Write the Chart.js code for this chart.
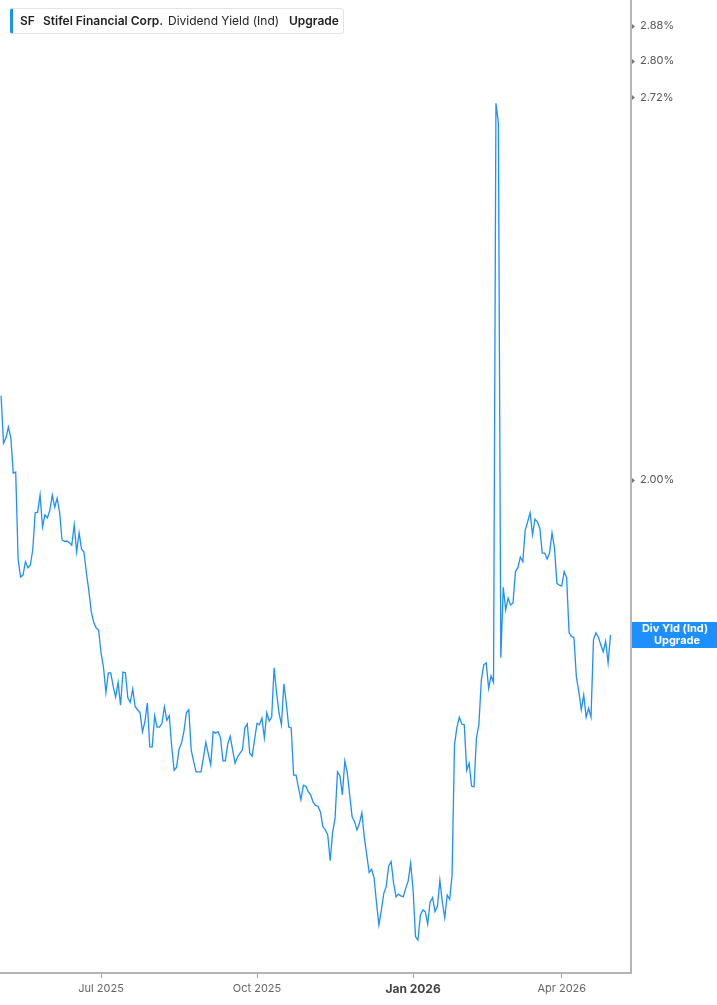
<!DOCTYPE html>
<html>
<head>
<meta charset="utf-8">
<script src="https://cdn.jsdelivr.net/npm/chart.js@4.4.1/dist/chart.umd.min.js"></script>
<style>
  html, body { margin: 0; padding: 0; background: #fff; }
  #wrap { position: relative; width: 717px; height: 1005px; }
  #legend {
    position: absolute; left: 10px; top: 8px; width: 334px; height: 26px;
    box-sizing: border-box; background: #fff;
    border: 1px solid #e4e4e4; border-left: 3px solid #1e8fff; border-radius: 3px;
    font-family: Inter, "Noto Sans", sans-serif; font-size: 12px; color: #222;
  }
  #legend span { position: absolute; top: 0; line-height: 24px; white-space: nowrap; }
  #legend .b { font-weight: 600; }
</style>
</head>
<body>
<div id="wrap">
  <canvas id="myChart" width="717" height="1005"></canvas>
  <div id="legend">
    <span class="b" style="left:7px">SF</span>
    <span class="b" style="left:30px">Stifel Financial Corp.</span>
    <span style="left:155px">Dividend Yield (Ind)</span>
    <span class="b" style="left:276px">Upgrade</span>
  </div>
</div>
<script>
// dividend yield (%) per trading session
let yields = [
  2.140, 2.060, 2.069, 2.087, 2.069, 2.011, 2.013, 1.876, 1.850, 1.853,
  1.873, 1.864, 1.868, 1.891, 1.948, 1.949, 1.976, 1.926, 1.945, 1.940,
  1.952, 1.976, 1.957, 1.971, 1.949, 1.906, 1.904, 1.904, 1.902, 1.898,
  1.929, 1.888, 1.917, 1.892, 1.888, 1.856, 1.830, 1.799, 1.784, 1.776,
  1.773, 1.741, 1.721, 1.686, 1.713, 1.713, 1.694, 1.680, 1.700, 1.669,
  1.714, 1.713, 1.679, 1.673, 1.691, 1.667, 1.663, 1.659, 1.634, 1.647,
  1.672, 1.614, 1.614, 1.655, 1.640, 1.640, 1.645, 1.667, 1.649, 1.655,
  1.614, 1.584, 1.588, 1.611, 1.619, 1.634, 1.659, 1.663, 1.610, 1.595,
  1.582, 1.582, 1.582, 1.600, 1.620, 1.605, 1.591, 1.634, 1.632, 1.634,
  1.626, 1.596, 1.596, 1.618, 1.628, 1.610, 1.593, 1.601, 1.606, 1.610,
  1.639, 1.644, 1.606, 1.602, 1.624, 1.645, 1.643, 1.652, 1.626, 1.659,
  1.648, 1.653, 1.720, 1.686, 1.659, 1.643, 1.698, 1.672, 1.640, 1.639,
  1.578, 1.578, 1.562, 1.547, 1.565, 1.564, 1.557, 1.553, 1.544, 1.540,
  1.539, 1.532, 1.514, 1.510, 1.504, 1.473, 1.507, 1.524, 1.582, 1.577,
  1.553, 1.596, 1.581, 1.553, 1.526, 1.520, 1.510, 1.518, 1.531, 1.501,
  1.480, 1.459, 1.463, 1.453, 1.424, 1.399, 1.416, 1.435, 1.443, 1.467,
  1.472, 1.447, 1.431, 1.434, 1.432, 1.431, 1.441, 1.449, 1.470, 1.439,
  1.386, 1.382, 1.410, 1.416, 1.414, 1.400, 1.425, 1.430, 1.414, 1.420,
  1.450, 1.425, 1.407, 1.433, 1.428, 1.456, 1.617, 1.640, 1.653, 1.644,
  1.643, 1.584, 1.593, 1.564, 1.563, 1.626, 1.643, 1.703, 1.724, 1.727,
  1.692, 1.709, 1.700, 2.707, 2.664, 1.734, 1.835, 1.802, 1.819, 1.809,
  1.812, 1.858, 1.864, 1.880, 1.873, 1.921, 1.934, 1.948, 1.914, 1.938,
  1.934, 1.924, 1.886, 1.886, 1.877, 1.886, 1.917, 1.894, 1.841, 1.838,
  1.837, 1.858, 1.849, 1.769, 1.764, 1.762, 1.707, 1.687, 1.663, 1.683,
  1.653, 1.665, 1.653, 1.759, 1.769, 1.763, 1.752, 1.742, 1.757, 1.727,
  1.766
];
let xTickIdx = [41, 105, 169, 230];
let xTickLabels = ["Jul 2025", "Oct 2025", "Jan 2026", "Apr 2026"];
let yTicks = [2.00, 2.72, 2.80, 2.88];
let boxLines = ["Div Yld (Ind)", "Upgrade"];

let lineColor = "#1e8fff";
let fontFam = "Inter, 'Noto Sans', sans-serif";

// little arrow marks on the right axis + last value tag
const sideMarks = {
  id: "sideMarks",
  afterDraw(chart) {
    let c = chart.ctx;
    let ys = chart.scales.y;
    c.save();
    c.fillStyle = "#777";
    yTicks.forEach(v => {
      let py = Math.round(ys.getPixelForValue(v)) + 0.5;
      c.beginPath();
      c.moveTo(ys.left + 1, py - 2.5);
      c.lineTo(ys.left + 4, py);
      c.lineTo(ys.left + 1, py + 2.5);
      c.closePath();
      c.fill();
    });
    let last = yields[yields.length - 1];
    let py = ys.getPixelForValue(last);
    c.fillStyle = lineColor;
    c.fillRect(ys.left + 1, Math.round(py - 13), chart.width - ys.left - 1, 26);
    c.fillStyle = "#fff";
    c.font = "bold 11px " + fontFam;
    c.textAlign = "center";
    c.textBaseline = "middle";
    let cx = (ys.left + chart.width) / 2 + 1;
    c.fillText(boxLines[0], cx, py - 6);
    c.fillText(boxLines[1], cx + 2, py + 6);
    c.restore();
  }
};

let ctx = document.querySelector("#myChart");
let myChart = new Chart(ctx, {
  type: "line",
  data: {
    datasets: [{
      label: "Dividend Yield (Ind)",
      data: yields.map((v, i) => ({ x: i, y: v })),
      borderColor: lineColor,
      borderWidth: 1.3,
      pointRadius: 0,
      pointHoverRadius: 0,
      tension: 0,
      fill: false
    }]
  },
  options: {
    responsive: false,
    animation: false,
    devicePixelRatio: 1,
    layout: { padding: 0, autoPadding: false },
    plugins: { legend: { display: false }, tooltip: { enabled: false } },
    scales: {
      x: {
        type: "linear",
        bounds: "data",
        min: -0.44,
        max: 258.4,
        afterBuildTicks: s => { s.ticks = xTickIdx.map(v => ({ value: v })); },
        afterFit: s => { s.height = 32; s.paddingLeft = 0; s.paddingRight = 0; },
        grid: { display: true, drawOnChartArea: false, drawTicks: true, tickLength: 5, color: "#9a9a9a" },
        border: { display: true, color: "#b5b5b5", width: 2 },
        ticks: {
          autoSkip: false,
          maxRotation: 0,
          padding: 4,
          callback: (v, i) => xTickLabels[i],
          color: c => c.index === 2 ? "#444" : "#666",
          font: c => c.index === 2
            ? { family: fontFam, size: 12, weight: "bold" }
            : { family: fontFam, size: 11 }
        }
      },
      y: {
        type: "logarithmic",
        position: "right",
        bounds: "data",
        min: 1.346,
        max: 2.941,
        afterBuildTicks: s => { s.ticks = yTicks.map(v => ({ value: v })); },
        afterFit: s => { s.width = 86; s.paddingTop = 0; s.paddingBottom = 0; },
        grid: { display: false, drawTicks: false },
        border: { display: true, color: "#b5b5b5", width: 2 },
        ticks: {
          autoSkip: false,
          padding: 9,
          color: "#555",
          font: { family: fontFam, size: 11 },
          callback: v => Number(v).toFixed(2) + "%"
        }
      }
    }
  },
  plugins: [sideMarks]
});
</script>
</body>
</html>
